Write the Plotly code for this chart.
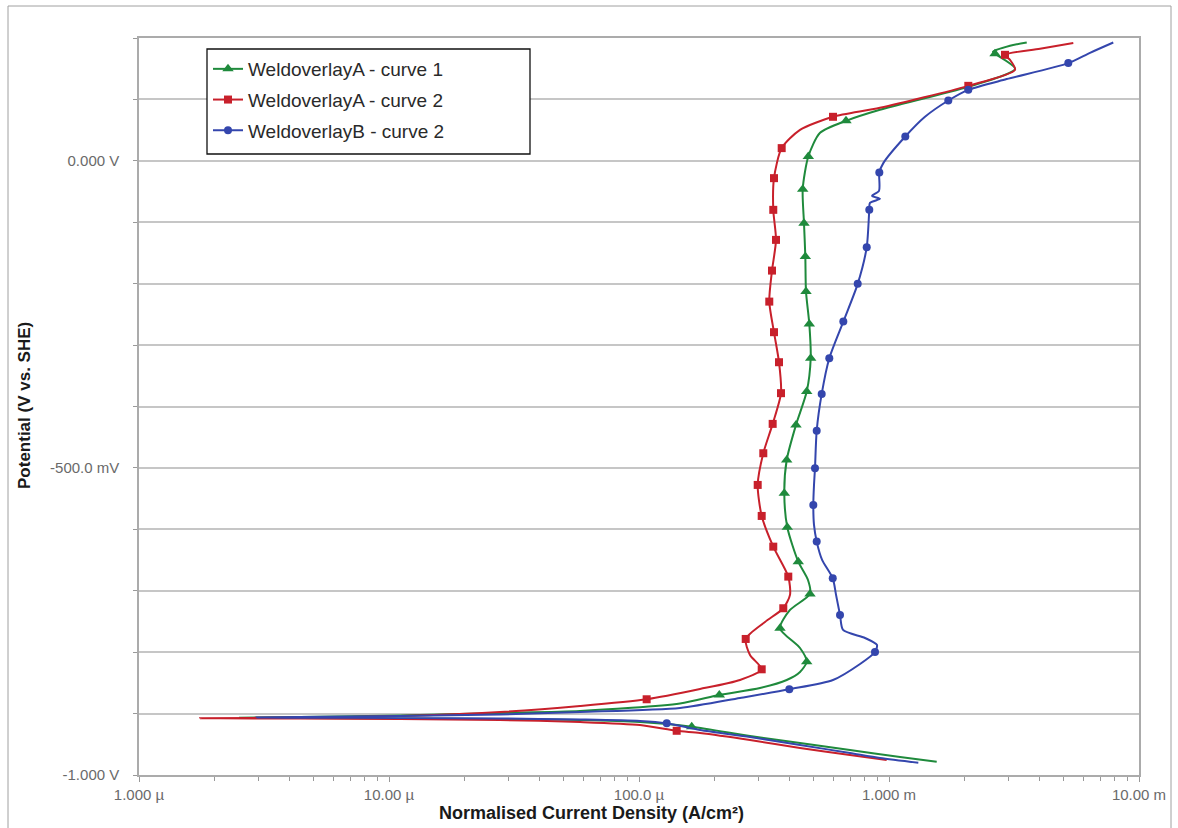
import plotly.graph_objects as go

# ---------------- data (A/cm2, V vs SHE) ----------------
# WeldoverlayA - curve 1 (green)
a1_current = [1.552e-3, 1.107e-3, 6.98e-4, 4.406e-4, 2.78e-4, 1.625e-4, 1.009e-4, 5.81e-5, 2.78e-5, 1.107e-5,
              4.406e-6, 2.535e-6, 4.406e-6, 1.107e-5, 2.78e-5, 5.81e-5, 1.459e-4, 2.095e-4, 3.048e-4, 3.898e-4,
              4.406e-4, 4.687e-4, 4.406e-4, 3.664e-4, 4.018e-4, 4.831e-4, 4.742e-4, 4.336e-4, 3.919e-4, 3.812e-4,
              3.898e-4, 4.246e-4, 4.687e-4, 4.862e-4, 4.80e-4, 4.656e-4, 4.627e-4, 4.571e-4, 4.517e-4, 4.756e-4,
              5.30e-4, 6.73e-4, 9.20e-4, 2.07e-3, 3.192e-3, 2.655e-3, 2.606e-3, 3.048e-3, 3.556e-3]
a1_potential = [-0.9783, -0.9707, -0.9593, -0.9479, -0.9365, -0.9213, -0.9137, -0.9104, -0.9088, -0.9080,
                -0.9072, -0.9068, -0.9055, -0.9031, -0.8990, -0.8958, -0.8835, -0.8697, -0.8583, -0.8453,
                -0.8322, -0.8155, -0.7932, -0.7611, -0.7313, -0.7052, -0.6824, -0.6526, -0.5966, -0.5412,
                -0.4870, -0.4300, -0.3757, -0.3213, -0.2655, -0.2129, -0.1559, -0.1015, -0.0461, 0.0070,
                0.0456, 0.0651, 0.0831, 0.1205, 0.1498, 0.1743, 0.1775, 0.1873, 0.1927]
a1_markers = [5, 17, 21, 23, 25, 27, 28, 29, 30, 31, 32, 33, 34, 35, 36, 37, 38, 39, 41, 45]

# WeldoverlayA - curve 2 (red)
a2_current = [9.79e-4, 6.98e-4, 4.406e-4, 2.78e-4, 1.754e-4, 1.415e-4, 1.009e-4, 5.81e-5, 2.78e-5, 1.107e-5,
              4.406e-6, 1.754e-6, 4.406e-6, 1.107e-5, 2.78e-5, 5.81e-5, 1.073e-4, 1.754e-4, 2.535e-4, 3.096e-4,
              2.78e-4, 2.672e-4, 3.192e-4, 3.777e-4, 4.018e-4, 3.955e-4, 3.444e-4, 3.096e-4, 2.984e-4, 3.142e-4,
              3.425e-4, 3.698e-4, 3.631e-4, 3.467e-4, 3.32e-4, 3.404e-4, 3.532e-4, 3.444e-4, 3.467e-4, 3.722e-4,
              4.406e-4, 5.97e-4, 9.20e-4, 2.076e-3, 3.192e-3, 3.048e-3, 2.911e-3, 4.018e-3, 5.46e-3]
a2_potential = [-0.9756, -0.9674, -0.9560, -0.9430, -0.9316, -0.9280, -0.9186, -0.9137, -0.9104, -0.9088,
                -0.9080, -0.9077, -0.9064, -0.9040, -0.8974, -0.8876, -0.8767, -0.8600, -0.8453, -0.8279,
                -0.8046, -0.7785, -0.7508, -0.7285, -0.7068, -0.6770, -0.6282, -0.5782, -0.5277, -0.4761,
                -0.4283, -0.3783, -0.3279, -0.2790, -0.2292, -0.1787, -0.1287, -0.0798, -0.0282, 0.0207,
                0.0505, 0.0717, 0.0863, 0.1221, 0.1482, 0.1645, 0.1726, 0.1824, 0.1917]
a2_markers = [5, 16, 19, 21, 23, 25, 26, 27, 28, 29, 30, 31, 32, 33, 34, 35, 36, 37, 38, 39, 41, 43, 46]

# WeldoverlayB - curve 2 (blue)
b2_current = [1.31e-3, 9.20e-4, 6.98e-4, 4.406e-4, 2.78e-4, 1.754e-4, 1.291e-4, 1.009e-4, 5.81e-5, 2.78e-5,
              1.107e-5, 4.406e-6, 2.956e-6, 4.406e-6, 1.107e-5, 2.78e-5, 5.81e-5, 1.459e-4, 2.535e-4, 3.992e-4,
              5.97e-4, 7.66e-4, 8.79e-4, 8.95e-4, 8.02e-4, 6.55e-4, 6.37e-4, 6.14e-4, 5.956e-4, 5.40e-4,
              5.138e-4, 5.012e-4, 4.98e-4, 5.012e-4, 5.058e-4, 5.138e-4, 5.38e-4, 5.77e-4, 6.566e-4, 7.496e-4,
              8.145e-4, 8.34e-4, 8.39e-4, 9.20e-4, 8.55e-4, 9.12e-4, 9.147e-4, 9.49e-4, 1.162e-3, 1.393e-3,
              1.727e-3, 2.076e-3, 2.956e-3, 5.214e-3, 6.368e-3, 7.89e-3]
b2_potential = [-0.9800, -0.9723, -0.9642, -0.9511, -0.9381, -0.9267, -0.9158, -0.9120, -0.9096, -0.9080,
                -0.9072, -0.9067, -0.9064, -0.9055, -0.9040, -0.9015, -0.8974, -0.8909, -0.8746, -0.8604,
                -0.8453, -0.8192, -0.7997, -0.7883, -0.7769, -0.7638, -0.7394, -0.7068, -0.6796, -0.6498,
                -0.6200, -0.5928, -0.5603, -0.5277, -0.5005, -0.4393, -0.3795, -0.3213, -0.2617, -0.2003,
                -0.1406, -0.0798, -0.0684, -0.0619, -0.0570, -0.0489, -0.0191, -0.0037, 0.0396, 0.0717,
                0.0982, 0.1156, 0.1331, 0.1591, 0.1759, 0.1927]
b2_markers = [6, 19, 22, 26, 28, 30, 32, 34, 35, 36, 37, 38, 39, 40, 41, 46, 48, 50, 51, 53]

x_tickvals = [1e-6, 1e-5, 1e-4, 1e-3, 1e-2]
x_ticktext = ["1.000 µ", "10.00 µ", "100.0 µ", "1.000 m", "10.00 m"]
y_tickvals = [-1.0, -0.9, -0.8, -0.7, -0.6, -0.5, -0.4, -0.3, -0.2, -0.1, 0.0, 0.1, 0.2]
y_ticktext = ["-1.000 V", "", "", "", "", "-500.0 mV", "", "", "", "", "0.000 V", "", ""]
x_minor = [m * 10.0 ** e for e in range(-6, -2) for m in range(2, 10)]

series = [
    ("WeldoverlayA - curve 1", a1_current, a1_potential, a1_markers, "#1f8a3c", "triangle-up", 10),
    ("WeldoverlayA - curve 2", a2_current, a2_potential, a2_markers, "#c8202b", "square", 8),
    ("WeldoverlayB - curve 2", b2_current, b2_potential, b2_markers, "#3446ad", "circle", 8),
]

fig = go.Figure()
for name, cur, pot, marks, color, symbol, msize in series:
    fig.add_trace(go.Scatter(
        x=cur, y=pot, name=name, legendgroup=name,
        mode="lines+markers",
        line=dict(color=color, width=2, shape="spline", smoothing=0.7),
        marker=dict(color=color, symbol=symbol, size=msize),
        selectedpoints=marks,
        selected=dict(marker=dict(opacity=1)),
        unselected=dict(marker=dict(opacity=0)),
    ))

tick_font = dict(family="Liberation Sans, Arial, sans-serif", size=15, color="#6a6a6a")
axis_line = "#ababab"
grid_col = "#c6c6c6"

fig.update_xaxes(
    type="log", range=[-6, -2],
    tickmode="array", tickvals=x_tickvals, ticktext=x_ticktext,
    tickfont=tick_font, ticks="outside", ticklen=5, tickcolor="#999999",
    minor=dict(tickmode="array", tickvals=x_minor, ticks="outside", ticklen=4,
               tickcolor="#999999", showgrid=False),
    showgrid=False, showline=True, linecolor=axis_line, linewidth=1.5, mirror=True,
    zeroline=False,
)
fig.update_yaxes(
    range=[-1.0, 0.2],
    tickmode="array", tickvals=y_tickvals, ticktext=y_ticktext,
    tickfont=tick_font, ticks="outside", ticklen=4, tickcolor="#999999",
    ticklabelstandoff=11,
    showgrid=True, gridcolor=grid_col, gridwidth=1.6,
    showline=True, linecolor=axis_line, linewidth=1.5, mirror=True,
    zeroline=False,
)

L, R, T, B = 139, 39, 38, 53
W, H = 1178, 828
pw, ph = W - L - R, H - T - B


def px(xp):
    return (xp - L) / pw


def py(yp):
    return (H - B - yp) / ph


shapes = [
    # outer frame
    dict(type="line", xref="paper", yref="paper", x0=px(8), x1=px(1171), y0=py(6), y1=py(6),
         line=dict(color="#a0a0a0", width=1)),
    dict(type="line", xref="paper", yref="paper", x0=px(8), x1=px(8), y0=py(6), y1=py(840),
         line=dict(color="#a0a0a0", width=1)),
    dict(type="line", xref="paper", yref="paper", x0=px(1171), x1=px(1171), y0=py(6), y1=py(840),
         line=dict(color="#a0a0a0", width=1)),
    # legend box
    dict(type="rect", xref="paper", yref="paper", x0=px(207), x1=px(530), y0=py(154), y1=py(49),
         fillcolor="white", line=dict(color="#111111", width=1.3), layer="above"),
]

fig.update_layout(
    width=W, height=H,
    margin=dict(l=L, r=R, t=T, b=B, pad=0),
    paper_bgcolor="white", plot_bgcolor="white",
    font=dict(family="Liberation Sans, Arial, sans-serif", color="#222222"),
    showlegend=True,
    legend=dict(x=px(208), y=py(50), xanchor="left", yanchor="top",
                bgcolor="rgba(0,0,0,0)", borderwidth=0,
                font=dict(size=19, color="#2a2a2a"),
                tracegroupgap=3, itemwidth=30, traceorder="grouped"),
    shapes=shapes,
    annotations=[
        dict(text="<b>Normalised Current Density (A/cm²)</b>", xref="paper", yref="paper",
             x=px(591), y=py(813), xanchor="center", yanchor="middle", showarrow=False,
             font=dict(size=18, color="#1a1a1a")),
        dict(text="<b>Potential (V vs. SHE)</b>", xref="paper", yref="paper",
             x=px(25), y=py(406), xanchor="center", yanchor="middle", showarrow=False,
             textangle=-90, font=dict(size=17, color="#1a1a1a")),
    ],
)

fig.write_html("out.html")
